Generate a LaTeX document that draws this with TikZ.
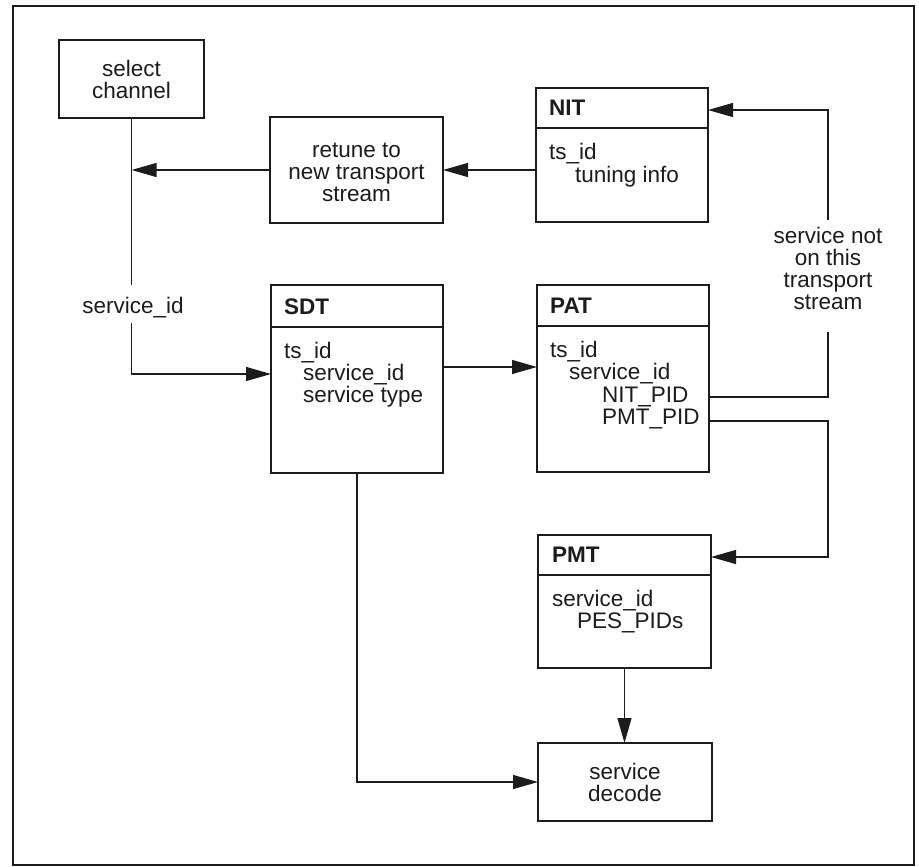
\documentclass[tikz,border=0pt]{standalone}
\usepackage{fontspec}
\setmainfont{Liberation Sans}
\usetikzlibrary{arrows.meta}
\definecolor{ink}{HTML}{1C1C1C}
\begin{document}
\begin{tikzpicture}[x=1pt,y=-1pt,
  txt/.style={font=\fontsize{22.5}{22}\selectfont, text=ink, inner sep=0pt},
  hdr/.style={font=\fontsize{22.5}{22}\selectfont\bfseries, text=ink, inner sep=0pt},
  box/.style={draw=ink, line width=1.5pt, inner sep=0pt, outer sep=0pt},
  link/.style={draw=ink, line width=1.2pt},
  arr/.style={link, -{Triangle[length=25pt,width=14pt]}},
]
\useasboundingbox (0,0) rectangle (919,867);
\fill[white] (0,0) rectangle (919,867);

% outer frame
\draw[ink, line width=2pt] (13,6) rectangle (914,865);

% plain boxes
\node[box, txt, align=center, minimum width=145pt, minimum height=78pt] (chan) at (131.5,79) {select\\channel};
\node[box, minimum width=173pt, minimum height=106pt] (retune) at (356.5,170) {};
\node[txt, align=center] (retunetxt) at (356.5,172.5) {retune to\\new transport\\stream};
\node[box, txt, align=center, minimum width=174pt, minimum height=78pt] (decode) at (625,782) {service\\decode};

% table boxes with a title row
\node[box, minimum width=172pt, minimum height=134pt] (nit) at (622,155) {};
\node[box, minimum width=172pt, minimum height=188pt] (sdt) at (357,379) {};
\node[box, minimum width=172pt, minimum height=187pt] (pat) at (623,378.5) {};
\node[box, minimum width=173pt, minimum height=133pt] (pmt) at (624.5,601.5) {};

\draw[box] (nit.west |- 0,128) -- (nit.east |- 0,128);
\draw[box] (sdt.west |- 0,327) -- (sdt.east |- 0,327);
\draw[box] (pat.west |- 0,326) -- (pat.east |- 0,326);
\draw[box] (pmt.west |- 0,575) -- (pmt.east |- 0,575);

% NIT contents
\node[hdr, anchor=base west] (nith) at (549,115) {NIT};
\node[txt, anchor=base west] (nit1) at (549,159) {ts\_id};
\node[txt, anchor=base west] (nit2) at (575,182) {tuning info};

% SDT contents
\node[hdr, anchor=base west] (sdth) at (284,314) {SDT};
\node[txt, anchor=base west] (sdt1) at (284,358) {ts\_id};
\node[txt, anchor=base west] (sdt2) at (303,380) {service\_id};
\node[txt, anchor=base west] (sdt3) at (303,402) {service type};

% PAT contents
\node[hdr, anchor=base west] (path) at (550,313) {PAT};
\node[txt, anchor=base west] (pat1) at (550,357) {ts\_id};
\node[txt, anchor=base west] (pat2) at (569,379) {service\_id};
\node[txt, anchor=base west] (pat3) at (602,402) {NIT\_PID};
\node[txt, anchor=base west] (pat4) at (602,424) {PMT\_PID};

% PMT contents
\node[hdr, anchor=base west] (pmth) at (552,562) {PMT};
\node[txt, anchor=base west] (pmt1) at (552,606) {service\_id};
\node[txt, anchor=base west] (pmt2) at (577,628) {PES\_PIDs};

% connector labels
\node[txt, anchor=base] (sid) at (133,313) {service\_id};
\node[txt, align=center] (notts) at (828,268) {service not\\on this\\transport\\stream};

% helper points on the connectors
\coordinate (sidtop) at (131.5,285);
\coordinate (sidbot) at (131.5,323);
\coordinate (sidturn) at (131.5,374);
\coordinate (nttop) at (828,220);
\coordinate (ntbot) at (828,332);
\coordinate (ntturn) at (828,110);
\coordinate (nitpid) at (828,397);
\coordinate (pmtpid) at (828,421);
\coordinate (pmtturn) at (828,557);

% connectors
\draw[arr] (nit.west |- retune.east) -- (retune.east);
\draw[arr] (retune.west) -- (chan.south |- retune.west);
\draw[link] (chan.south) -- (sidtop);
\draw[arr] (sidbot) -- (sidturn) -- (sdt.west |- sidturn);
\draw[arr] (sdt.east |- 0,367) -- (pat.west |- 0,367);
\draw[link] (pat.east |- nitpid) -- (nitpid) -- (ntbot);
\draw[arr] (nttop) -- (ntturn) -- (nit.east |- ntturn);
\draw[arr] (pat.east |- pmtpid) -- (pmtpid) -- (pmtturn) -- (pmt.east |- pmtturn);
\draw[arr] (sdt.south) |- (decode.west);
\draw[arr] (pmt.south) -- (pmt.south |- decode.north);
\end{tikzpicture}
\end{document}
